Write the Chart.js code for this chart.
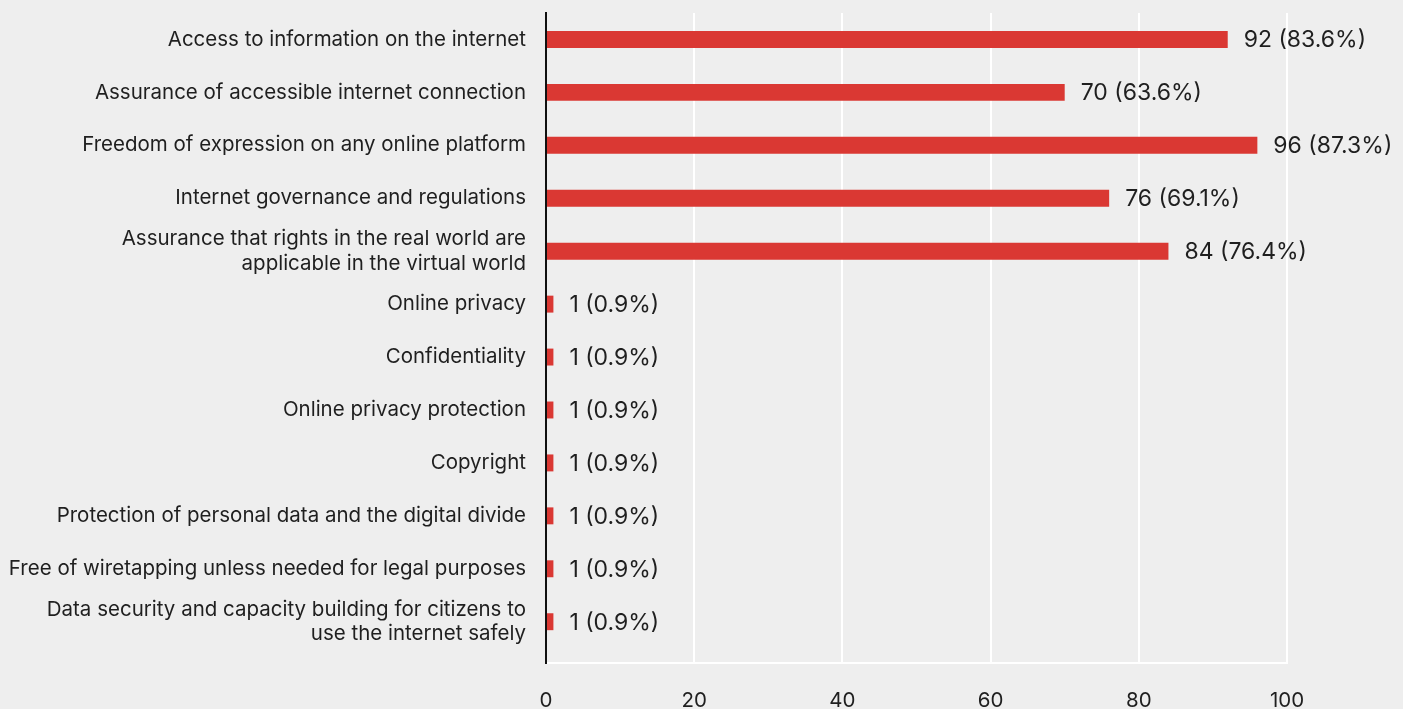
<!DOCTYPE html>
<html>
<head>
<meta charset="utf-8">
<script src="https://cdn.jsdelivr.net/npm/chart.js@4"></script>
<style>
  html, body { margin: 0; padding: 0; background: #eeeeee; }
  #wrap { width: 1403px; height: 709px; }
</style>
</head>
<body>
<div id="wrap"><canvas id="rightsChart"></canvas></div>
<script>
const categories = [
    'Access to information on the internet',
    'Assurance of accessible internet connection',
    'Freedom of expression on any online platform',
    'Internet governance and regulations',
    ['Assurance that rights in the real world are', 'applicable in the virtual world'],
    'Online privacy',
    'Confidentiality',
    'Online privacy protection',
    'Copyright',
    'Protection of personal data and the digital divide',
    'Free of wiretapping unless needed for legal purposes',
    ['Data security and capacity building for citizens to', 'use the internet safely']
];
const counts = [92, 70, 96, 76, 84, 1, 1, 1, 1, 1, 1, 1];
const shares = ['83.6%', '63.6%', '87.3%', '69.1%', '76.4%', '0.9%', '0.9%', '0.9%', '0.9%', '0.9%', '0.9%', '0.9%'];
const xTicks = [0, 20, 40, 60, 80, 100];

const fontFamily = 'Inter, "Noto Sans", sans-serif';
const textColor = '#1f1f1f';

// value + share printed just right of each bar
const valueLabels = {
    id: 'valueLabels',
    afterDatasetsDraw(chart) {
        const ctx = chart.ctx;
        const meta = chart.getDatasetMeta(0);
        ctx.save();
        ctx.font = '23px ' + fontFamily;
        ctx.fillStyle = textColor;
        ctx.textAlign = 'left';
        ctx.textBaseline = 'middle';
        meta.data.forEach((bar, i) => {
            ctx.fillText(counts[i] + ' (' + shares[i] + ')', bar.x + 16, bar.y + 1);
        });
        ctx.restore();
    }
};

new Chart(document.getElementById('rightsChart'), {
    type: 'bar',
    data: {
        labels: categories,
        datasets: [{
            data: counts,
            backgroundColor: '#da3833',
            barPercentage: 0.32,
            categoryPercentage: 1
        }]
    },
    options: {
        indexAxis: 'y',
        responsive: true,
        maintainAspectRatio: false,
        animation: false,
        layout: { padding: { top: 13, right: 116, left: 0, bottom: 0 } },
        plugins: {
            legend: { display: false },
            tooltip: { enabled: false }
        },
        scales: {
            x: {
                min: 0,
                max: 100,
                afterBuildTicks(scale) {
                    scale.ticks = xTicks.map(v => ({ value: v }));
                },
                afterFit(scale) {
                    scale.height = 46;
                    scale.paddingLeft = 0;
                    scale.paddingRight = 0;
                },
                grid: { color: '#ffffff', lineWidth: 2, drawTicks: false },
                border: { display: true, color: '#ffffff', width: 2 },
                ticks: {
                    padding: 26,
                    color: textColor,
                    font: { family: fontFamily, size: 20.5 }
                }
            },
            y: {
                afterBuildTicks(scale) {
                    // leave a little empty room below the last category
                    scale._valueRange += 0.28;
                },
                afterFit(scale) {
                    scale.width = 546;
                    scale.paddingTop = 0;
                    scale.paddingBottom = 0;
                },
                grid: { display: false, drawTicks: false },
                border: { display: true, color: '#111111', width: 2 },
                ticks: {
                    padding: 20,
                    color: textColor,
                    font: { family: fontFamily, size: 20.5, lineHeight: 1.2 }
                }
            }
        }
    },
    plugins: [valueLabels]
});
</script>
</body>
</html>
